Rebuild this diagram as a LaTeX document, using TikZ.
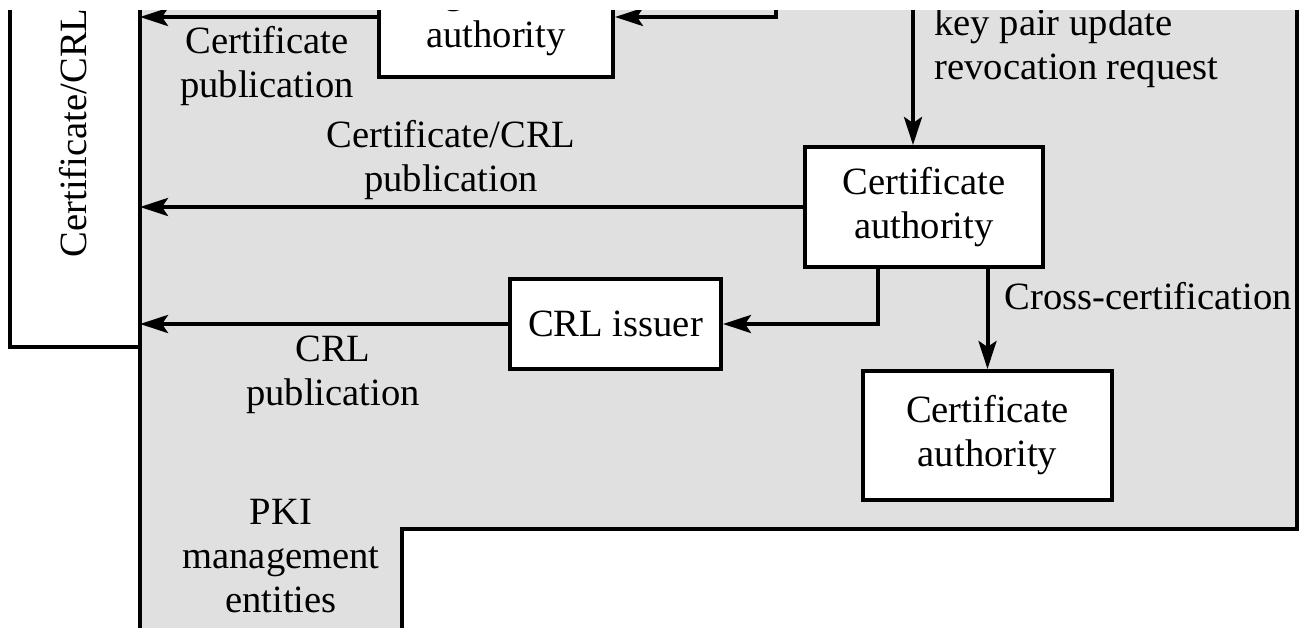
\documentclass[tikz,border=0pt]{standalone}
\usepackage{fontspec}
\setmainfont{Liberation Serif}
\usetikzlibrary{arrows.meta}
\definecolor{panel}{RGB}{224,224,224}
\begin{document}
\begin{tikzpicture}[x=0.5pt,y=-0.5pt,
  every node/.style={font=\fontsize{19.3}{22}\selectfont},
  box/.style={draw,fill=white,line width=2pt,inner sep=0pt,align=center},
  lbl/.style={align=center,inner sep=0pt},
  arr/.style={line width=2pt,-{Stealth[length=14pt,width=9pt,inset=3pt]}},
  ln/.style={line width=2pt}]
\useasboundingbox (0,0) rectangle (1301,627);
\clip (0,10) rectangle (1301,627);
% left repository box
\draw[ln] (10,-30) |- (140,347);
\node[lbl,rotate=90] (repo) at (73,133) {Certificate/CRL};
% grey PKI region
\draw[ln,fill=panel] (140,-30) -- (1297,-30) -- (1297,529) -- (402,529) -- (402,700) -- (140,700) -- cycle;
\coordinate (gl) at (140,0);
% boxes
\node[box,minimum width=117pt,minimum height=60pt] (RA) at (496,17) {Registration\\authority};
\node[box,minimum width=119pt,minimum height=60pt] (CA1) at (924,207) {Certificate\\authority};
\node[box,minimum width=105.5pt,minimum height=45pt] (CRL) at (615.5,324) {CRL issuer};
\node[box,minimum width=124.5pt,minimum height=64.5pt] (CA2) at (987.5,435.5) {Certificate\\authority};
% connectors
\coordinate (t1) at (776,-30);
\coordinate (t2) at (913,-30);
\coordinate (a1) at (878,0);
\draw[arr] (RA.west) -- (RA.west -| gl);
\draw[arr] (t1) |- (RA.east);
\draw[arr] (t2) -- (t2 |- CA1.north);
\draw[arr] (CA1.west) -- (CA1.west -| gl);
\draw[arr] (CA1.south -| a1) |- (CRL.east);
\draw[arr] (CRL.west) -- (CRL.west -| gl);
\draw[arr] (CA2.north |- CA1.south) -- (CA2.north);
% labels
\node[lbl] (l1) at (267,66) {Certificate\\publication};
\node[lbl] (l2) at (451,160) {Certificate/CRL\\publication};
\node[lbl] (l3) at (333,375) {CRL\\publication};
\node[lbl] (l4) at (281,556) {PKI\\management\\entities};
\node[lbl,anchor=west,align=left] (l5) at (934,48) {key pair update\\revocation request};
\node[lbl,anchor=west] (l6) at (1004,296) {Cross-certification};
\end{tikzpicture}
\end{document}
